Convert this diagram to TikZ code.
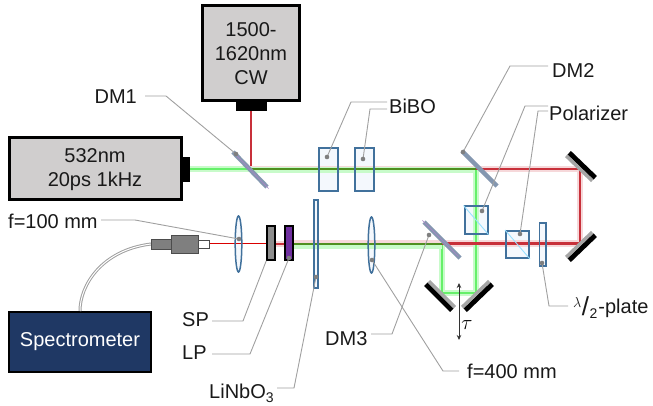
\documentclass[tikz,border=0pt]{standalone}
\usepackage{fontspec}
\setmainfont{Liberation Sans}
\usetikzlibrary{arrows.meta}
\definecolor{boxgray}{HTML}{D0CECE}
\definecolor{bluee}{HTML}{41719C}
\definecolor{pale}{HTML}{F4F8FD}
\definecolor{navy}{HTML}{1F3864}
\definecolor{dmcol}{HTML}{8497B0}
\definecolor{purp}{HTML}{7030A0}
\definecolor{leadc}{HTML}{A0A0A0}
\definecolor{dotc}{HTML}{7F7F7F}
\definecolor{redb}{HTML}{C8303A}
\definecolor{redh}{HTML}{F6D8DA}
\definecolor{grnb}{HTML}{66F06A}
\definecolor{grnh}{HTML}{C8FBCA}
\definecolor{dgrn}{HTML}{4F8F20}
\definecolor{mgray}{HTML}{A6A6A6}
\tikzset{
  lbl/.style={font=\fontsize{20}{24}\selectfont,inner sep=0pt,anchor=center,text=black!90},
  srcbox/.style={draw=black,line width=3pt,fill=boxgray,inner sep=0pt},
  leader/.style={draw=leadc,line width=0.9pt},
  plate/.style={draw=bluee,line width=2pt,inner sep=0pt},
  thinplate/.style={draw=bluee,line width=1.5pt,inner sep=0pt},
  dotm/.style={fill=dotc,draw=none},
  glowR/.style={redh,line width=6pt,line join=round},
  coreR/.style={redb,line width=2.8pt,line join=round},
  glowG/.style={grnh,line width=6pt,line join=round},
  coreG/.style={grnb,line width=2.8pt,line join=round},
  mirblack/.style={black,line width=5pt},
  mirgray/.style={mgray,line width=3.5pt},
  dmirror/.style={dmcol,line width=4.5pt},
  filter/.style={draw=black,line width=1.5pt,minimum width=8pt,minimum height=34pt,inner sep=0pt},
  cplr/.style={draw=black!70,line width=0.8pt},
  cubediag/.style={blue!30!cyan!40,line width=0.9pt},
}
\begin{document}
\begin{tikzpicture}[x=1pt,y=-1pt]
\useasboundingbox (0,0) rectangle (653,406);
% named points
\coordinate (dmoneA) at (233,152); \coordinate (dmoneB) at (267,187);
\coordinate (dmtwoA) at (462,151); \coordinate (dmtwoB) at (497,186);
\coordinate (dmthrA) at (424,222); \coordinate (dmthrB) at (460,258);
\coordinate (pOne) at (236,154);
\coordinate (pBiA) at (327,157); \coordinate (pBiB) at (363,159);
\coordinate (pTwo) at (463,152);
\coordinate (pPolA) at (482,211); \coordinate (pPolB) at (520,234);
\coordinate (pWave) at (542,263);
\coordinate (pThr) at (429,235);
\coordinate (pLensA) at (239,239);
\coordinate (pLensB) at (372,260);
\coordinate (pLP) at (289,258);
\coordinate (pLN) at (316,277);
% pale fills under the beams
\fill[pale] (318.5,148.5) rectangle (337.5,191.5);
\fill[pale] (354.5,148.5) rectangle (373.5,191.5);
\fill[pale] (464.5,206.5) rectangle (487.5,233.5);
\fill[pale] (506,231) rectangle (529,258);
\fill[pale] (314,200) rectangle (318,288);
\fill[pale] (238.5,244) ellipse (3.3pt and 28pt);
\fill[pale] (371.5,245) ellipse (3.3pt and 28pt);
\fill[pale] (539,223) rectangle (546,266);
% beams
\draw[redh,line width=2.8pt] (251,111) -- (251,169);
\draw[redb,line width=1.4pt] (251,111) -- (251,169);
\draw[glowG] (190,169) -- (250,169);
\draw[coreG] (190,169) -- (250,169);
\draw[redh,line width=6.5pt,line join=round] (250,169) -- (580,169) -- (580,243.5) -- (442,243.5);
\draw[grnh,line width=6pt] (250,170.5) -- (476,170.5);
\draw[glowG] (476,170) -- (476,293) -- (442,293) -- (442,244);
\draw[coreG] (476,170) -- (476,293) -- (442,293) -- (442,244);
\draw[coreR] (476,169) -- (580,169) -- (580,243.5) -- (442,243.5);
\draw[dgrn,line width=2.4pt] (250,169) -- (476,169);
\draw[redh,line width=6pt] (290,243) -- (442,243);
\draw[grnh,line width=5pt] (290,246) -- (442,246);
\draw[dgrn,line width=2.4pt] (290,244) -- (442,244);
\draw[glowR] (275,244) -- (287,244);
\draw[coreR] (275,244) -- (287,244);
\draw[red!85!black,line width=0.7pt] (209,243) -- (267,243);
% sources
\node[srcbox,minimum width=97pt,minimum height=95pt] (cw) at (251,53) {};
\node[lbl,align=center] (cwt) at (251,54) {1500-\\1620nm\\CW};
\fill[black] (236,101) rectangle (267,111);
\node[srcbox,minimum width=172pt,minimum height=62pt] (pump) at (95,169) {};
\node[lbl,align=center] (pumpt) at (95,170) {532nm\\20ps 1kHz};
\fill[black] (182,157) rectangle (190,182);
% spectrometer
\node[draw=black,line width=2pt,fill=navy,minimum width=142pt,minimum height=60pt,inner sep=0pt,text=white,font=\fontsize{20}{24}\selectfont] (spec) at (80,342) {Spectrometer};
% fibre
\coordinate (fa) at (151,244); \coordinate (fb) at (80,311);
\draw[leadc,line width=3pt] (fa) .. controls (102,250) and (80,285) .. (fb);
\draw[white,line width=1pt] (fa) .. controls (102,250) and (80,285) .. (fb);
% coupler
\draw[cplr,fill=dotc] (151,239) rectangle (171,249);
\draw[cplr,fill=dotc] (171,235) rectangle (198,253);
\draw[cplr,fill=white] (198,240) rectangle (209,248);
% mirrors
\draw[mirblack] (569.2,152.8) -- (595.2,177.8);
\draw[mirgray] (566.2,155.8) -- (592.2,180.8);
\draw[mirblack] (595.2,235.2) -- (569.2,260.2);
\draw[mirgray] (592.2,232.2) -- (566.2,257.2);
\draw[mirblack] (425.8,284.2) -- (451.8,310.2);
\draw[mirgray] (428.8,281.2) -- (454.8,307.2);
\draw[mirblack] (492.2,284.2) -- (465.2,310.2);
\draw[mirgray] (489.2,281.2) -- (462.2,307.2);
% dichroics
\draw[dmirror] (dmoneA) -- (dmoneB);
\draw[dmirror] (dmtwoA) -- (dmtwoB);
\draw[dmirror] (dmthrA) -- (dmthrB);
\draw[purp!60,line width=0.6pt] ([xshift=1.6pt,yshift=-1.6pt]dmoneA) -- ([xshift=1.6pt,yshift=-1.6pt]dmoneB);
\draw[purp!60,line width=0.6pt] ([xshift=-1.6pt,yshift=1.6pt]dmthrA) -- ([xshift=-1.6pt,yshift=1.6pt]dmthrB);
% crystals
\node[plate,minimum width=19pt,minimum height=43pt] (biA) at (328,170) {};
\node[plate,minimum width=19pt,minimum height=43pt] (biB) at (364,170) {};
% optics on lower line
\draw[thinplate] (238.5,244) ellipse (3.3pt and 28pt);
\node[filter,fill=gray!90] (sp) at (271,243) {};
\node[filter,fill=purp] (lp) at (289,243) {};
\node[thinplate,minimum width=4pt,minimum height=88pt] (ln) at (316,244) {};
\draw[thinplate] (371.5,245) ellipse (3.3pt and 28pt);
% polarizers
\node[plate,minimum width=23pt,minimum height=27pt] (polA) at (476,220) {};
\draw[cubediag] (polA.north west) -- (polA.south east);
\node[plate,minimum width=23pt,minimum height=27pt] (polB) at (517.5,244.5) {};
\draw[cubediag] (polB.north west) -- (polB.south east);
\node[thinplate,minimum width=6.5pt,minimum height=43pt] (wave) at (542.5,244.5) {};
% delay arrow
\coordinate (tauA) at (459,283); \coordinate (tauB) at (459,340);
\draw[black!80,line width=0.8pt,{Stealth[length=5pt,width=4.5pt]}-{Stealth[length=5pt,width=4.5pt]}] (tauA) -- (tauB);
\node[font=\fontsize{20}{24}\selectfont,inner sep=0pt] (tau) at (467,325) {$\tau$};
% labels
\node[lbl,anchor=east] (tone) at (137,97) {DM1};
\node[lbl,anchor=west] (tbibo) at (389,106) {BiBO};
\node[lbl,anchor=west] (ttwo) at (552,71) {DM2};
\node[lbl,anchor=west] (tpol) at (549,113) {Polarizer};
\node[lbl,anchor=base west] (twave) at (573,313) {\raisebox{6pt}{\fontsize{15}{15}\selectfont$\lambda$}\kern0.5pt\raisebox{-2pt}{\fontsize{26}{26}\selectfont/}\kern0.5pt\raisebox{-5pt}{\fontsize{14}{14}\selectfont 2}\kern1pt-plate};
\node[lbl,anchor=west] (tthr) at (325,339) {DM3};
\node[lbl,anchor=west] (tf) at (467,371) {f=400 mm};
\node[lbl,anchor=west] (tfh) at (8,221) {f=100 mm};
\node[lbl,anchor=west] (tsp) at (182,320) {SP};
\node[lbl,anchor=west] (tlp) at (182,353) {LP};
\node[lbl,anchor=base west] (tln) at (209,398) {LiNbO\raisebox{-4pt}{\fontsize{14}{14}\selectfont 3}};
% leaders
\coordinate (lone) at (145,96);
\draw[leader] (lone) -- (166,96) -- (pOne);
\draw[leader] (387,102) -- (351,102) -- (pBiA);
\draw[leader] (387,109) -- (370,109) -- (pBiB);
\draw[leader] (548,66) -- (510,66) -- (pTwo);
\draw[leader] (548,106) -- (525,106) -- (pPolA);
\draw[leader] (548,111) -- (538,111) -- (pPolB);
\draw[leader] (568,306) -- (549,306) -- (pWave);
\draw[leader] (371,334) -- (392,334) -- (pThr);
\draw[leader] (pLensB) -- (443,371) -- (459,371);
\draw[leader] (101,220) -- (135,220) -- (pLensA);
\draw[leader] (212,321) -- (243,321) -- (sp.south west);
\draw[leader] (212,354) -- (250,354) -- (pLP);
\draw[leader] (277,388) -- (294,388) -- (pLN);
% dots
\foreach \p in {pOne,pBiA,pBiB,pTwo,pPolA,pPolB,pWave,pThr,pLensA,pLensB,pLP,pLN}{\fill[dotm] (\p) circle (2.3pt);}
\end{tikzpicture}
\end{document}
